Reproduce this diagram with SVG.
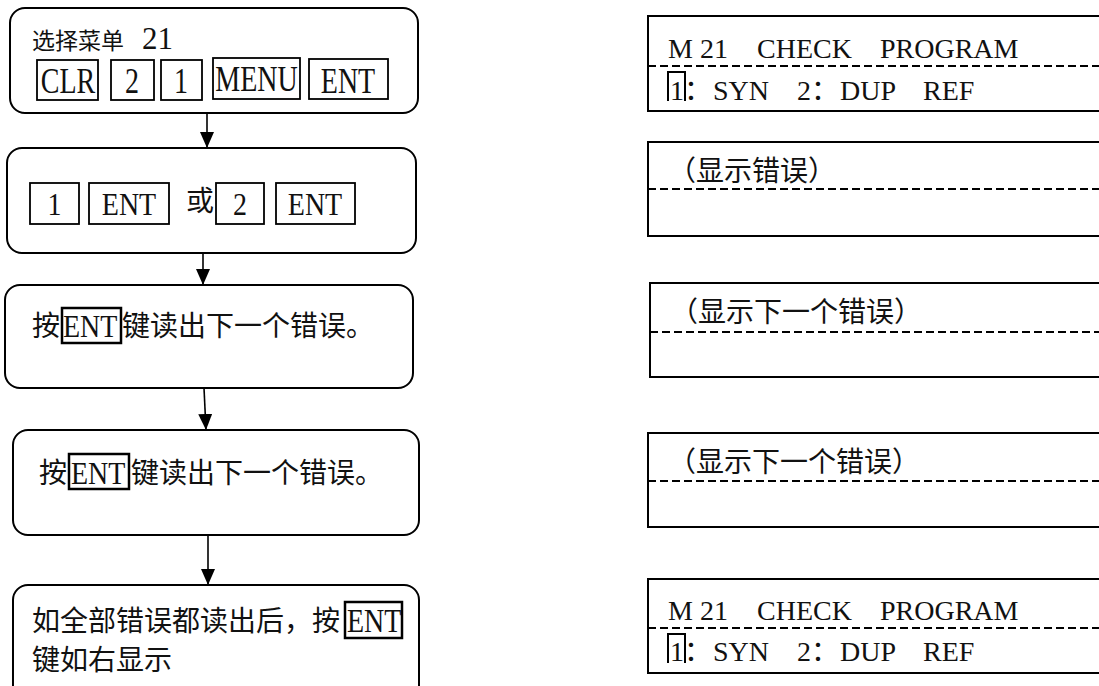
<svg xmlns="http://www.w3.org/2000/svg" width="1099" height="686" viewBox="0 0 1099 686">
<defs>
<style>
.node{fill:#fff;stroke:#000;stroke-width:2}
.key{fill:none;stroke:#000;stroke-width:1.8}
.ikey{fill:none;stroke:#000;stroke-width:2.5}
.panel{fill:#fff;stroke:#000;stroke-width:2}
.dash{stroke:#000;stroke-width:2;stroke-dasharray:8 4;fill:none}
.cur{fill:none;stroke:#000;stroke-width:2}
text{font-family:"Liberation Serif","Noto Sans CJK SC",serif;font-size:28px;fill:#111}
.c{text-anchor:middle}
.conn line{stroke:#000;stroke-width:1.6}
</style>
<marker id="ah" markerUnits="userSpaceOnUse" markerWidth="16" markerHeight="14" viewBox="0 0 16 14" refX="16" refY="7" orient="auto">
<path d="M0,0 L16,7 L0,14 Z" fill="#000"/>
</marker>
</defs>
<rect width="1099" height="686" fill="#fff"/>

<g id="node1">
<rect class="node" x="10" y="8" width="408" height="105" rx="15"/>
<text x="32" y="49"><tspan font-size="23">选择菜单</tspan><tspan x="142" font-size="31">21</tspan></text>
<rect class="key" x="37" y="60" width="61" height="40"/>
<rect class="key" x="111" y="60" width="43" height="40"/>
<rect class="key" x="161" y="60" width="41" height="40"/>
<rect class="key" x="213" y="58" width="87" height="41"/>
<rect class="key" x="309" y="59" width="79" height="40"/>
<text class="c" font-size="29" transform="matrix(1 0 0 1.3 0 93)" x="68" y="0">CLR</text>
<text class="c" font-size="29" transform="matrix(1 0 0 1.3 0 93)" x="132" y="0">2</text>
<text class="c" font-size="29" transform="matrix(1 0 0 1.3 0 93)" x="181" y="0">1</text>
<text class="c" font-size="29" transform="matrix(1 0 0 1.3 0 91)" x="256.5" y="0">MENU</text>
<text class="c" font-size="29" transform="matrix(1 0 0 1.3 0 93)" x="348" y="0">ENT</text>
</g>

<g id="node2">
<rect class="node" x="7" y="148" width="409" height="105" rx="15"/>
<rect class="key" x="30" y="183" width="49" height="41"/>
<rect class="key" x="89" y="183" width="80" height="41"/>
<rect class="key" x="216" y="183" width="48" height="41"/>
<rect class="key" x="276" y="183" width="79" height="41"/>
<text class="c" transform="matrix(1 0 0 1.1 0 215)" x="54.5" y="0">1</text>
<text class="c" transform="matrix(1 0 0 1.1 0 215)" x="129" y="0">ENT</text>
<text x="186" y="211" font-size="27">或</text>
<text class="c" transform="matrix(1 0 0 1.1 0 215)" x="240" y="0">2</text>
<text class="c" transform="matrix(1 0 0 1.1 0 215)" x="315" y="0">ENT</text>
</g>

<g id="node3">
<rect class="node" x="5" y="285" width="408" height="103" rx="15"/>
<rect class="ikey" x="62" y="308" width="59" height="35"/>
<text x="32" y="336">按</text>
<text transform="matrix(1 0 0 1.15 0 337)" x="63" y="0">ENT</text>
<text x="122" y="336">键读出下一个错误。</text>
</g>

<g id="node4">
<rect class="node" x="13" y="430" width="406" height="105" rx="15"/>
<rect class="ikey" x="69" y="454" width="60" height="35"/>
<text x="39" y="483">按</text>
<text transform="matrix(1 0 0 1.15 0 484)" x="71" y="0">ENT</text>
<text x="131" y="483">键读出下一个错误。</text>
</g>

<g id="node5">
<rect class="node" x="13" y="585" width="406" height="130" rx="15"/>
<rect class="ikey" x="345" y="602" width="57" height="36"/>
<text x="32" y="631">如全部错误都读出后，按</text>
<text transform="matrix(1 0 0 1.2 0 632)" x="347" y="0">ENT</text>
<text x="32" y="670">键如右显示</text>
</g>

<g id="panel1">
<rect class="panel" x="648" y="16" width="470" height="95"/>
<line class="dash" x1="648" y1="66" x2="1099" y2="66"/>
<path class="cur" d="M668,101 V72 H685 V101"/>
<text y="58"><tspan x="668">M 21</tspan><tspan x="757">CHECK</tspan><tspan x="880">PROGRAM</tspan></text>
<text y="100"><tspan x="670">1：</tspan><tspan x="713">SYN</tspan><tspan x="797">2：</tspan><tspan x="840">DUP</tspan><tspan x="923">REF</tspan></text>
</g>

<g id="panel2">
<rect class="panel" x="648" y="142" width="470" height="94"/>
<line class="dash" x1="648" y1="189" x2="1099" y2="189"/>
<text x="668" y="181">（显示错误）</text>
</g>

<g id="panel3">
<rect class="panel" x="650" y="283" width="470" height="94"/>
<line class="dash" x1="650" y1="332" x2="1099" y2="332"/>
<text x="670" y="322">（显示下一个错误）</text>
</g>

<g id="panel4">
<rect class="panel" x="648" y="433" width="470" height="94"/>
<line class="dash" x1="648" y1="481" x2="1099" y2="481"/>
<text x="668" y="472">（显示下一个错误）</text>
</g>

<g id="panel5">
<rect class="panel" x="648" y="579" width="470" height="94"/>
<line class="dash" x1="648" y1="628" x2="1099" y2="628"/>
<path class="cur" d="M668,663 V634 H685 V663"/>
<text y="620"><tspan x="668">M 21</tspan><tspan x="757">CHECK</tspan><tspan x="880">PROGRAM</tspan></text>
<text y="661"><tspan x="670">1：</tspan><tspan x="713">SYN</tspan><tspan x="797">2：</tspan><tspan x="840">DUP</tspan><tspan x="923">REF</tspan></text>
</g>

<g id="connectors" class="conn">
<line x1="207" y1="113" x2="207" y2="148" marker-end="url(#ah)"/>
<line x1="203" y1="253" x2="203" y2="285" marker-end="url(#ah)"/>
<line x1="204" y1="388" x2="206" y2="430" marker-end="url(#ah)"/>
<line x1="208" y1="535" x2="208" y2="585" marker-end="url(#ah)"/>
</g>
</svg>
